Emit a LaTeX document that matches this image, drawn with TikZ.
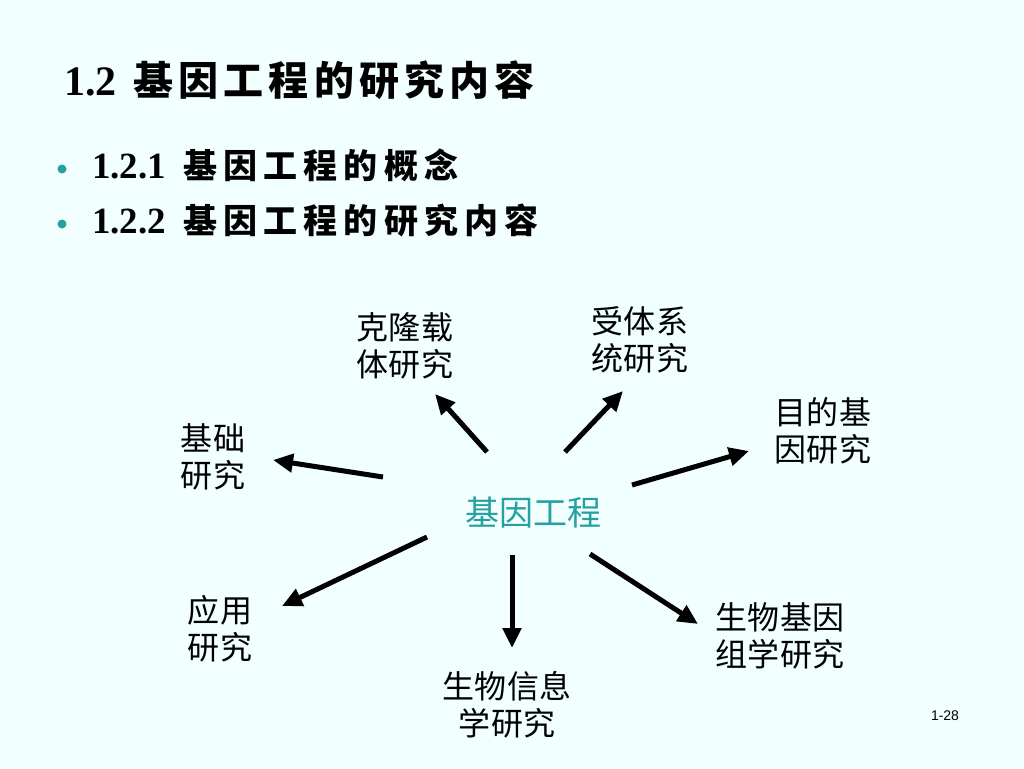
\documentclass[tikz,border=0pt]{standalone}
\usepackage{fontspec}
\setmainfont{Liberation Serif}
\setsansfont{Liberation Sans}
\newfontfamily\cjk{Noto Sans CJK SC}
\usetikzlibrary{arrows.meta}
\definecolor{slidebg}{RGB}{242,255,255}
\definecolor{tealmark}{RGB}{38,160,160}

\begin{document}
\begin{tikzpicture}[x=1pt,y=-1pt,
  lbl/.style={font=\cjk\fontsize{32}{37}\selectfont\addfontfeature{LetterSpace=2},
    align=center,inner sep=0pt},
  hd/.style={anchor=base west,inner sep=0pt},
  dot/.style={circle,fill=tealmark,inner sep=0pt,minimum size=9pt},
  arr/.style={-{Triangle[length=20pt,width=18pt]},line width=5pt}]
\fill[slidebg] (0,0) rectangle (1024,768);
\useasboundingbox (0,0) rectangle (1024,768);
% heading and bullets
\node[hd] (title) at (64,95) {\fontsize{42}{46}\selectfont\bfseries 1.2\hspace{6pt}
  {\cjk\fontsize{40}{44}\selectfont\addfontfeature{LetterSpace=13}基因工程的研究内容}};
\node[dot] (b1) at (62,169) {};
\node[dot] (b2) at (62,224) {};
\node[hd] (sub1) at (92,178) {\fontsize{37}{40}\selectfont\bfseries 1.2.1\hspace{8pt}
  {\cjk\fontsize{34}{38}\selectfont\addfontfeature{LetterSpace=18}基因工程的概念}};
\node[hd] (sub2) at (92,233) {\fontsize{37}{40}\selectfont\bfseries 1.2.2\hspace{8pt}
  {\cjk\fontsize{34}{38}\selectfont\addfontfeature{LetterSpace=18}基因工程的研究内容}};
% diagram
\node[lbl,text=tealmark,font=\cjk\fontsize{34}{37}\selectfont] (core) at (533,513) {基因工程};
\node[lbl] (vec) at (405,346) {克隆载\\体研究};
\node[lbl] (host) at (640,340) {受体系\\统研究};
\node[lbl] (target) at (823,431) {目的基\\因研究};
\node[lbl] (basic) at (213,457) {基础\\研究};
\node[lbl] (appl) at (220,629) {应用\\研究};
\node[lbl] (bioinf) at (507,705) {生物信息\\学研究};
\node[lbl] (genom) at (780,636) {生物基因\\组学研究};
\node[font=\sffamily\fontsize{14}{16}\selectfont,inner sep=0pt] (pg) at (945,716) {1-28};
% arrow ends
\coordinate (t1) at (487,452); \coordinate (h1) at (435,394);
\coordinate (t2) at (565,452); \coordinate (h2) at (623,391);
\coordinate (t3) at (632,485); \coordinate (h3) at (749,451);
\coordinate (t4) at (383,477); \coordinate (h4) at (273,460);
\coordinate (t5) at (427,537); \coordinate (h5) at (282,606);
\coordinate (t6) at (512,555); \coordinate (h6) at (512,648);
\coordinate (t7) at (590,554); \coordinate (h7) at (698,624);
\foreach \i in {1,...,7}
  \draw[arr] (t\i) -- (h\i);
\end{tikzpicture}
\end{document}
